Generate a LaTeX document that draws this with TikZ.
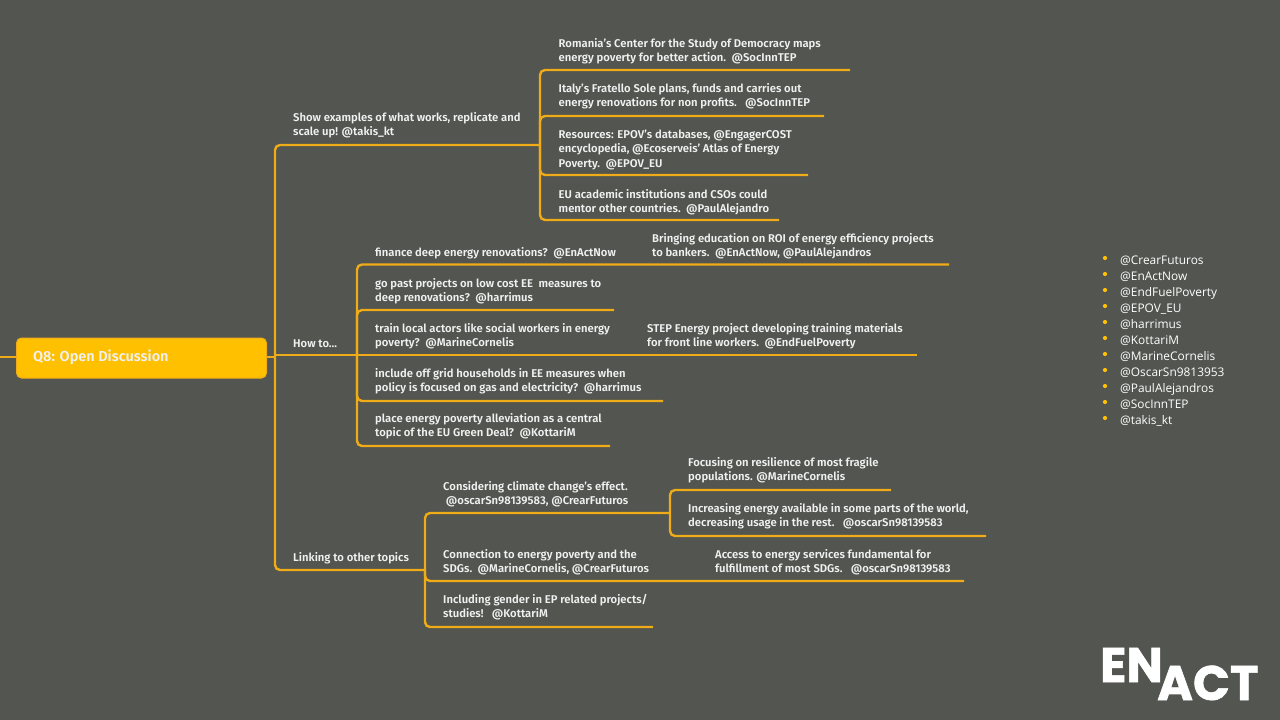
\documentclass[tikz,border=0pt]{standalone}
\usepackage{fontspec}
\setmainfont{Fira Sans SemiBold}
\newfontfamily\listfont{Open Sans}
\newfontfamily\logofont{Poppins}[BoldFeatures={FakeBold=1.2}]
\definecolor{bgc}{HTML}{535550}
\definecolor{linec}{HTML}{F0AB18}
\definecolor{rootc}{HTML}{FFC000}
\definecolor{txt}{HTML}{F0F0F0}
\tikzset{
 lbl/.style={anchor=north west,inner sep=0pt,align=left,text=txt,font=\fontsize{11.27}{14.4}\selectfont},
 conn/.style={draw=linec,line width=2.4pt,rounded corners=5pt},
 handle/.style={anchor=west,inner sep=0pt,text=white,font=\listfont\fontsize{11.9}{14}\selectfont},
 bullet/.style={circle,fill=rootc,inner sep=0pt,minimum size=4.2pt},
 logotext/.style={anchor=base west,inner sep=0pt,text=white,font=\logofont\bfseries\fontsize{48.5}{48}\selectfont},
}
\newcommand{\sr}{\strut}
\begin{document}
\begin{tikzpicture}[x=1pt,y=-1pt]
\useasboundingbox (0,0) rectangle (1280,720);
\fill[bgc] (0,0) rectangle (1280,720);
% junction coordinates
\coordinate (inL) at (0,357);
\coordinate (tr1) at (275,357);
\coordinate (tr2) at (275,355);
\coordinate (b1) at (540,145);
\coordinate (b2) at (357,355);
\coordinate (b3) at (425,570);
\coordinate (e11) at (850,70);
\coordinate (e12) at (824,116);
\coordinate (e13) at (808,175);
\coordinate (e14) at (779,220);
\coordinate (e21) at (949,264.5);
\coordinate (e22) at (614,310);
\coordinate (e23) at (917,355);
\coordinate (e24) at (663,401);
\coordinate (e25) at (610,446);
\coordinate (b31) at (670,513);
\coordinate (e311) at (891,490);
\coordinate (e312) at (986,536);
\coordinate (e32) at (964,581);
\coordinate (e33) at (653,627);
% connectors
\draw[conn] (inL) -- (tr1);
\draw[conn] (tr1) |- (b1);
\draw[conn] (tr1) |- (b3);
\draw[conn] (tr2) -- (b2);
\draw[conn] (b1) |- (e11);
\draw[conn] (b1) |- (e12);
\draw[conn] (b1) |- (e13);
\draw[conn] (b1) |- (e14);
\draw[conn] (b2) |- (e21);
\draw[conn] (b2) |- (e22);
\draw[conn] (b2) -- (e23);
\draw[conn] (b2) |- (e24);
\draw[conn] (b2) |- (e25);
\draw[conn] (b3) |- (b31);
\draw[conn] (b3) |- (e32);
\draw[conn] (b3) |- (e33);
\draw[conn] (b31) |- (e311);
\draw[conn] (b31) |- (e312);
% root
\node[draw=linec,fill=rootc,line width=1pt,rounded corners=5pt,minimum width=250pt,minimum height=40pt,anchor=north west,inner sep=0pt] (root) at (16,337.5) {};
\node[anchor=west,inner sep=0pt,text=txt,font=\fontsize{14.5}{16}\selectfont] (roottext) at (33,357.5) {Q8: Open Discussion};
% labels
\node[lbl] (s1) at (293,111) {\sr Show examples of what works, replicate and\\scale up! @takis\_kt};
\node[lbl] (s11) at (558.5,37) {\sr Romania's Center for the Study of Democracy maps\\energy poverty for better action.\ \ @SocInnTEP};
\node[lbl] (s12) at (558.5,82) {\sr Italy's Fratello Sole plans, funds and carries out\\energy renovations for non profits.\ \ \ @SocInnTEP};
\node[lbl] (s13) at (558.5,128) {\sr Resources: EPOV's databases, @EngagerCOST\\encyclopedia, @Ecoserveis' Atlas of Energy\\Poverty.\ \ @EPOV\_EU};
\node[lbl] (s14) at (558.5,188) {\sr EU academic institutions and CSOs could\\mentor other countries.\ \ @PaulAlejandro};
\node[lbl] (s2) at (293,337) {\sr How to...};
\node[lbl] (s21) at (375,246) {\sr finance deep energy renovations?\ \ @EnActNow};
\node[lbl] (s211) at (652,232) {\sr Bringing education on ROI of energy efficiency projects\\to bankers.\ \ @EnActNow, @PaulAlejandros};
\node[lbl] (s22) at (375,277) {\sr go past projects on low cost EE\ \ measures to\\deep renovations?\ \ @harrimus};
\node[lbl] (s23) at (375,322) {\sr train local actors like social workers in energy\\poverty?\ \ @MarineCornelis};
\node[lbl] (s231) at (647,322) {\sr STEP Energy project developing training materials\\for front line workers.\ \ @EndFuelPoverty};
\node[lbl] (s24) at (375,367) {\sr include off grid households in EE measures when\\policy is focused on gas and electricity?\ \ @harrimus};
\node[lbl] (s25) at (375,412) {\sr place energy poverty alleviation as a central\\topic of the EU Green Deal?\ \ @KottariM};
\node[lbl] (s3) at (293,551) {\sr Linking to other topics};
\node[lbl] (s31) at (443,480) {\sr Considering climate change's effect.\\\ @oscarSn98139583, @CrearFuturos};
\node[lbl] (s311) at (688,456) {\sr Focusing on resilience of most fragile\\populations. @MarineCornelis};
\node[lbl] (s312) at (688,502) {\sr Increasing energy available in some parts of the world,\\decreasing usage in the rest.\ \ \ @oscarSn98139583};
\node[lbl] (s32) at (443,548) {\sr Connection to energy poverty and the\\SDGs.\ \ @MarineCornelis, @CrearFuturos};
\node[lbl] (s321) at (715,548) {\sr Access to energy services fundamental for\\fulfillment of most SDGs.\ \ \ @oscarSn98139583};
\node[lbl] (s33) at (443,593) {\sr Including gender in EP related projects/\\studies!\ \ \ @KottariM};
% handle list
\foreach \n/\t [count=\i from 0] in {a/@CrearFuturos,b/@EnActNow,c/@EndFuelPoverty,d/@EPOV\_EU,e/@harrimus,f/@KottariM,g/@MarineCornelis,h/@OscarSn9813953,i/@PaulAlejandros,j/@SocInnTEP,k/@takis\_kt}{
  \node[bullet] (bul\n) at (1105,{258+16*\i}) {};
  \node[handle] (hd\n) at (1120,{261+16*\i}) {\t};
}
% logo
\node[logotext] (logoEN) at (1100,682) {EN};
\fill[bgc] (1152,703) -- (1173,661) -- (1181,661) -- (1160,703) -- cycle;
\node[logotext] (logoACT) at (1157,700) {ACT};
\end{tikzpicture}
\end{document}
